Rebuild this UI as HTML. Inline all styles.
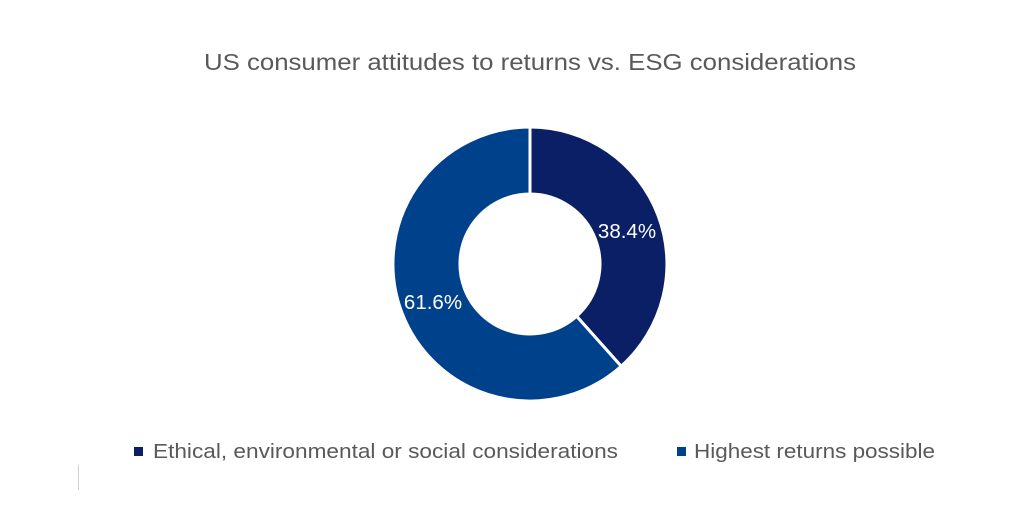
<!DOCTYPE html>
<html><head><meta charset="utf-8"><style>
html,body{margin:0;padding:0;background:#fff;}
svg{display:block;}
text{font-family:"Liberation Sans",sans-serif;}
</style></head><body>
<svg width="1013" height="512" viewBox="0 0 1013 512">
<rect width="1013" height="512" fill="#fff"/>
<text x="530" y="70" text-anchor="middle" font-size="23" fill="#595959" textLength="652" lengthAdjust="spacingAndGlyphs">US consumer attitudes to returns vs. ESG considerations</text>
<path d="M530,127 A137,137 0 0 1 621.2,366.2 L576.6,316.2 A70,70 0 0 0 530,194 Z" fill="#0B1F67" stroke="#fff" stroke-width="3"/>
<path d="M621.2,366.2 A137,137 0 1 1 530,127 L530,194 A70,70 0 1 0 576.6,316.2 Z" fill="#00418C" stroke="#fff" stroke-width="3"/>
<text x="627" y="238" text-anchor="middle" font-size="20.5" fill="#fff">38.4%</text>
<text x="433" y="309" text-anchor="middle" font-size="20.5" fill="#fff">61.6%</text>
<rect x="134" y="447" width="9" height="9" fill="#0B1F67"/>
<text x="153" y="458" font-size="20" fill="#595959" textLength="465" lengthAdjust="spacingAndGlyphs">Ethical, environmental or social considerations</text>
<rect x="677" y="447" width="9" height="9" fill="#00418C"/>
<text x="694" y="458" font-size="20" fill="#595959" textLength="241" lengthAdjust="spacingAndGlyphs">Highest returns possible</text>
<line x1="78.5" y1="465" x2="78.5" y2="490" stroke="#d0d0d0" stroke-width="1"/>
</svg>
</body></html>
